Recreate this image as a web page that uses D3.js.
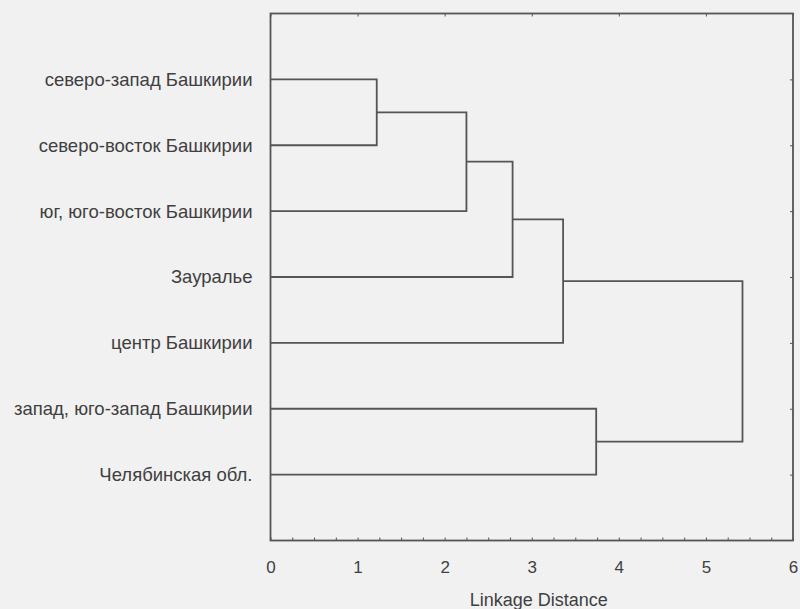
<!DOCTYPE html>
<html>
<head>
<meta charset="utf-8">
<script src="https://cdn.jsdelivr.net/npm/d3@7"></script>
<style>
  body { margin: 0; background: #f1f1f1; }
  text { font-family: "Liberation Sans", Arial, sans-serif; fill: #3f3f3f; }
</style>
</head>
<body>
<div id="chart"></div>
<script>

// leaves, top to bottom
const leaves = [
  "северо-запад Башкирии",
  "северо-восток Башкирии",
  "юг, юго-восток Башкирии",
  "Зауралье",
  "центр Башкирии",
  "запад, юго-запад Башкирии",
  "Челябинская обл."
];

// merges: ids 0..6 are leaves, merge k gets id 7+k
const mergeA = [0, 7, 8, 9, 5, 10];
const mergeB = [1, 2, 3, 4, 6, 11];
const mergeDist = [1.22, 2.25, 2.78, 3.36, 3.74, 5.42];

const xTicks = [0, 1, 2, 3, 4, 5, 6];
const xTitle = "Linkage Distance";

const W = 800, H = 609;
const margin = { top: 13.5, right: 7, bottom: 68.5, left: 270.5 },
  width = W - margin.left - margin.right,
  height = H - margin.top - margin.bottom;

let x = d3.scaleLinear().domain([0, 6]).range([0, width]);
let y = d3.scalePoint().domain(d3.range(leaves.length)).range([0, height]).padding(1);

let svg = d3.select("#chart")
  .append("svg")
  .attr("width", W)
  .attr("height", H)
  .append("g")
  .attr("transform", "translate(" + margin.left + "," + margin.top + ")");

const lineColor = "#555";
const textColor = "#3f3f3f";

// node positions
let nodes = leaves.map(function (d, i) { return { x: 0, y: y(i) }; });
mergeDist.forEach(function (h, k) {
  let a = nodes[mergeA[k]], b = nodes[mergeB[k]];
  let xm = x(h);
  // elbows
  svg.append("path")
    .attr("d", "M" + a.x + "," + a.y + "H" + xm + "V" + b.y + "H" + b.x)
    .attr("fill", "none")
    .attr("stroke", lineColor)
    .attr("stroke-width", 1.8);
  nodes.push({ x: xm, y: (a.y + b.y) / 2 });
});

// frame
svg.append("rect")
  .attr("width", width)
  .attr("height", height)
  .attr("fill", "none")
  .attr("stroke", lineColor)
  .attr("stroke-width", 1.8);

// bottom axis: minor ticks inside, labels below
let minor = d3.range(0, 6.001, 0.25);
svg.append("g")
  .attr("transform", "translate(0," + height + ")")
  .call(d3.axisTop(x).tickValues(minor).tickSize(3).tickFormat(""))
  .call(g => g.select(".domain").remove())
  .selectAll("line").attr("stroke", lineColor);

svg.append("g")
  .attr("transform", "translate(0," + height + ")")
  .call(d3.axisBottom(x).tickValues(xTicks).tickSize(0).tickPadding(20).tickFormat(d3.format("d")))
  .call(g => g.select(".domain").remove())
  .selectAll("text")
  .style("font-size", "17px")
  .style("fill", textColor);

// top ticks
svg.append("g")
  .call(d3.axisBottom(x).tickValues(xTicks).tickSize(3).tickFormat(""))
  .call(g => g.select(".domain").remove())
  .selectAll("line").attr("stroke", lineColor);

// right ticks at leaves
svg.append("g")
  .attr("transform", "translate(" + width + ",0)")
  .call(d3.axisLeft(y).tickSize(3).tickFormat(""))
  .call(g => g.select(".domain").remove())
  .selectAll("line").attr("stroke", lineColor);

// leaf labels
svg.append("g")
  .call(d3.axisLeft(y).tickSize(0).tickPadding(18).tickFormat(function (i) { return leaves[i]; }))
  .call(g => g.select(".domain").remove())
  .selectAll("text")
  .style("font-size", "18.5px")
  .style("fill", textColor);

// x title
svg.append("text")
  .attr("transform", "translate(" + (x(3) + 7) + "," + (height + 65) + ")")
  .style("text-anchor", "middle")
  .style("font-size", "18px")
  .style("fill", textColor)
  .text(xTitle);

</script>
</body>
</html>
